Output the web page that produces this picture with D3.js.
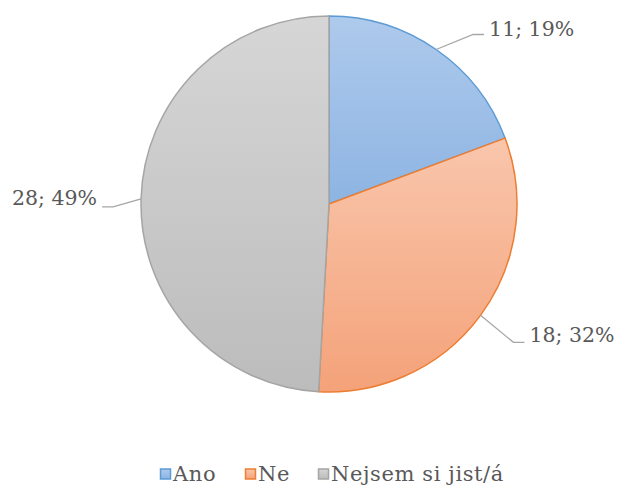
<!DOCTYPE html>
<html>
<head>
<meta charset="utf-8">
<script src="https://cdn.jsdelivr.net/npm/d3@7"></script>
<style>
  body { margin: 0; background: #fff; }
  svg { display: block; font-family: "DejaVu Serif", serif; }
</style>
</head>
<body>
<script>
const categories = ['Ano', 'Ne', 'Nejsem si jist/á'];
const values = [11, 18, 28];
const strokeColors = ['#5B9BD5', '#ED7D31', '#A5A5A5'];
const gradTop = ['#AECAEC', '#F9C6AC', '#D6D6D6'];
const gradBottom = ['#8DB4E2', '#F4A279', '#BCBCBC'];

const width = 617, height = 487;
const cx = 329, cy = 204, radius = 188;
const total = d3.sum(values);

const svg = d3.select('body').append('svg')
    .attr('width', width)
    .attr('height', height);

const defs = svg.append('defs');
categories.forEach((c, i) => {
    const g = defs.append('linearGradient')
        .attr('id', `grad${i}`)
        .attr('x1', 0).attr('y1', 0)
        .attr('x2', 0).attr('y2', 1);
    g.append('stop').attr('offset', '0%').attr('stop-color', gradTop[i]);
    g.append('stop').attr('offset', '100%').attr('stop-color', gradBottom[i]);
});

const pie = d3.pie().sort(null).value(d => d);
const arcs = pie(values);
const arc = d3.arc().innerRadius(0).outerRadius(radius);

const chart = svg.append('g').attr('transform', `translate(${cx}, ${cy})`);

chart.selectAll('path.slice')
    .data(arcs)
    .enter()
    .append('path')
    .attr('class', 'slice')
    .attr('d', arc)
    .style('fill', (d, i) => `url(#grad${i})`)
    .style('stroke', (d, i) => strokeColors[i])
    .style('stroke-width', 1.5)
    .style('stroke-linejoin', 'round');

// leader lines + labels (offsets tuned by eye)
const leaders = [
    { elbow: [37, -15], dir: 1, dy: -6 },
    { elbow: [33, 27], dir: 1, dy: -8 },
    { elbow: [-28, 8], dir: -1, dy: -9 }
];

arcs.forEach((d, i) => {
    const mid = (d.startAngle + d.endAngle) / 2;
    const px = radius * Math.sin(mid);
    const py = -radius * Math.cos(mid);
    const L = leaders[i];
    const ex = px + L.elbow[0], ey = py + L.elbow[1];
    const hx = ex + L.dir * 11;
    chart.append('polyline')
        .attr('points', `${px},${py} ${ex},${ey} ${hx},${ey}`)
        .style('fill', 'none')
        .style('stroke', '#A6A6A6')
        .style('stroke-width', 1.3);
    const pct = Math.round(values[i] / total * 100);
    chart.append('text')
        .attr('x', hx + L.dir * 5)
        .attr('y', ey + L.dy)
        .attr('dy', '0.35em')
        .attr('text-anchor', L.dir > 0 ? 'start' : 'end')
        .style('font-size', '20.5px')
        .style('fill', '#595959')
        .text(`${values[i]}; ${pct}%`);
});

// legend
const legendX = [160, 245, 318];
const legend = svg.append('g').attr('transform', 'translate(0, 474)');
categories.forEach((c, i) => {
    legend.append('rect')
        .attr('x', legendX[i] + 0.5)
        .attr('y', -5)
        .attr('width', 10)
        .attr('height', 10)
        .style('fill', `url(#grad${i})`)
        .style('stroke', strokeColors[i])
        .style('stroke-width', 1.5);
    legend.append('text')
        .attr('x', legendX[i] + 13)
        .attr('y', 0)
        .attr('dy', '0.35em')
        .style('font-size', '21px')
        .style('letter-spacing', '0.6px')
        .style('fill', '#595959')
        .text(c);
});
</script>
</body>
</html>
